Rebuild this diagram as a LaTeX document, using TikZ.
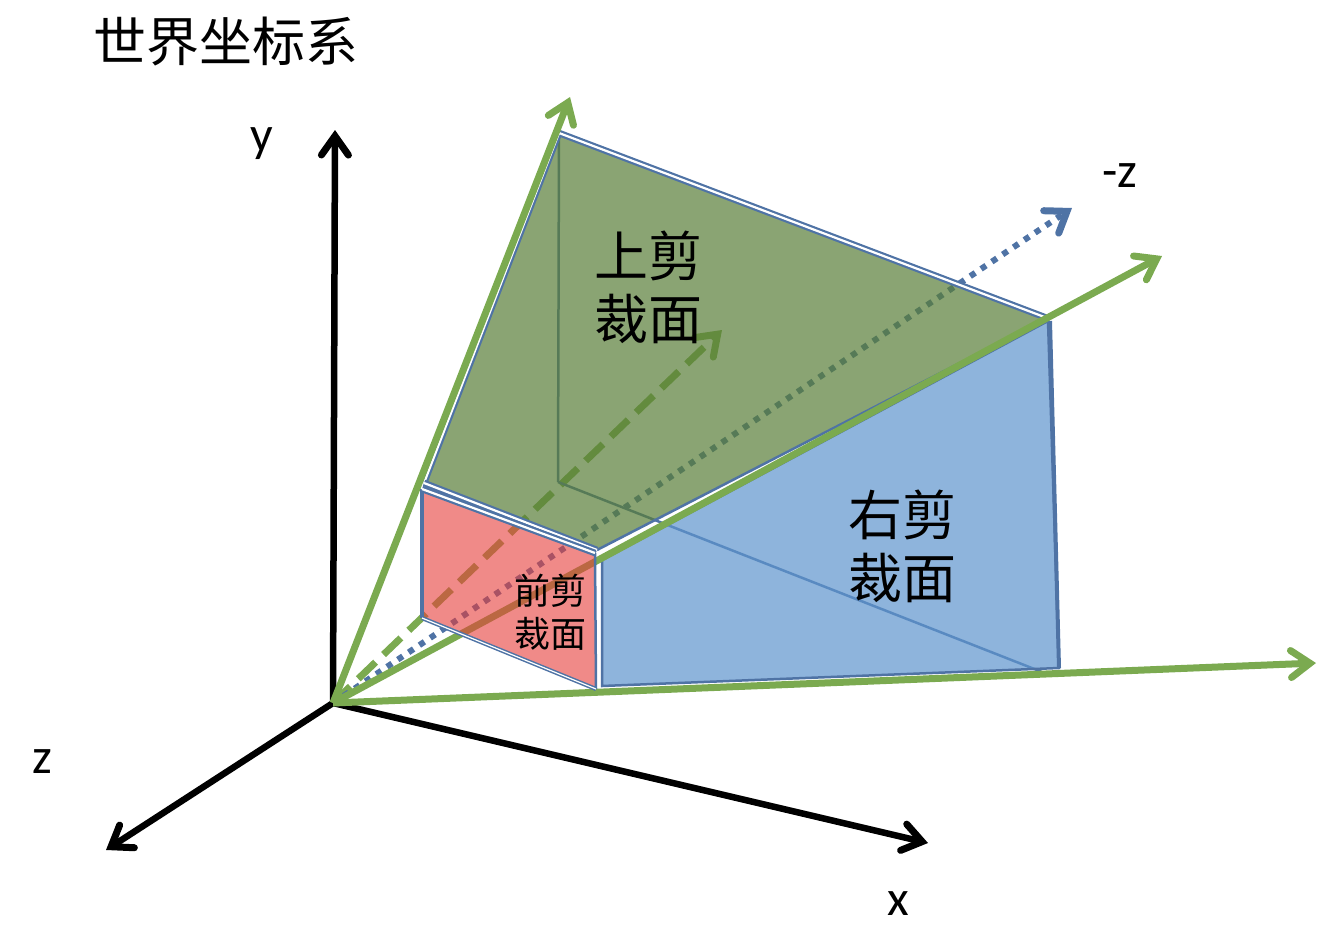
\documentclass[tikz,border=0pt]{standalone}
\usepackage{fontspec}
\setmainfont{Carlito}
\newfontfamily\cjk{Noto Sans CJK SC}
\usepackage{xcolor}
\usetikzlibrary{arrows.meta}
\definecolor{raygreen}{RGB}{123,170,80}
\definecolor{edgeblue}{RGB}{79,115,165}
\definecolor{topfill}{RGB}{89,126,55}
\definecolor{rightfill}{RGB}{94,148,205}
\definecolor{nearfill}{RGB}{230,60,57}

\begin{document}
\begin{tikzpicture}[
                x=1pt, y=-1pt,
                barb/.style={-{Straight Barb[length=19pt, width=27pt, line width=7pt, line cap=round, line join=miter]}},
                axis/.style={line width=6.5pt, barb},
                ray/.style={line width=7pt, raygreen, barb},
                raydash/.style={ray, dash pattern=on 24pt off 11pt},
                centre/.style={line width=6pt, edgeblue, dash pattern=on 6pt off 7pt, barb},
                hidden/.style={line width=2.5pt, edgeblue},
                face/.style={fill opacity=0.7},
                twin/.style={line width=2.2pt, double=white, double distance=2.2pt},
                bigtext/.style={font=\cjk\fontsize{54}{63}\selectfont, align=center, inner sep=0pt},
                titletext/.style={font=\cjk\fontsize{53}{63}\selectfont, inner sep=0pt},
                smalltext/.style={font=\cjk\fontsize{36}{43}\selectfont, align=center, inner sep=0pt},
                axislabel/.style={font=\fontsize{50}{52}\selectfont, inner sep=0pt},
            ]
                \useasboundingbox (0,0) rectangle (1342,930);

                % Axes
                \coordinate (orig) at (333,703);
                \coordinate (yend) at (335,130);
                \coordinate (xend) at (928,843);
                \coordinate (zend) at (106,850);

                % Rays
                \coordinate (raytop) at (570,97);
                \coordinate (rayright) at (1162,256);
                \coordinate (raylow) at (1316,663);
                \coordinate (rayback) at (722,330);
                \coordinate (minusz) at (1072,208);

                % Corners
                \coordinate (topa) at (424,483);
                \coordinate (topb) at (559,133);
                \coordinate (topc) at (1047,318);
                \coordinate (topd) at (597,550);
                \coordinate (righta) at (602,560);
                \coordinate (rightb) at (1048,321);
                \coordinate (rightc) at (1059,668);
                \coordinate (rightd) at (602,686);
                \coordinate (neara) at (422,489);
                \coordinate (nearb) at (595,553);
                \coordinate (nearc) at (596,689);
                \coordinate (neard) at (422,618);
                \coordinate (backc) at (558,482);
                \coordinate (backd) at (1042,672);

                % Behind the faces
                \draw[raydash] (orig) -- (rayback);
                \draw[centre] (orig) -- (minusz);
                \draw[hidden] (topb) -- (backc);
                \draw[hidden] (backc) -- (backd);

                % Faces
                \draw[face, draw=edgeblue, fill=rightfill, line width=2.5pt] (righta) -- (rightb) -- (rightc) -- (rightd) -- cycle;
                \draw[edgeblue, line width=4pt] ([xshift=2pt]rightb) -- (rightc);
                \fill[face, fill=topfill] (topa) -- (topb) -- (topc) -- (topd) -- cycle;
                \draw[edgeblue, line width=2.5pt] (topd) -- (topc);
                \draw[edgeblue, twin] (topa) -- (topb) -- (topc);
                \draw[edgeblue, twin] (topa) -- (topd);

                % Rays in front
                \draw[axis] (orig) -- (yend);
                \draw[axis] (orig) -- (xend);
                \draw[axis] (orig) -- (zend);
                \draw[ray] (orig) -- (raytop);
                \draw[ray] (orig) -- (rayright);
                \draw[ray] (orig) -- (raylow);

                % Near face
                \fill[nearfill, fill opacity=0.6] (neara) -- (nearb) -- (nearc) -- (neard) -- cycle;
                \draw[edgeblue, line width=3.5pt] (neard) -- (neara);
                \draw[edgeblue, line width=2.5pt] (nearb) -- (nearc);
                \draw[edgeblue, twin, double distance=1.2pt, line width=1.5pt] (neard) -- (nearc);
                \draw[edgeblue, twin] (neara) -- (nearb);

                % Labels
                \node[titletext, anchor=west] (title) at (93,42) {世界坐标系};
                \node[bigtext] (toplabel) at (648,287) {上剪\\裁面};
                \node[bigtext] (rightlabel) at (902,546) {右剪\\裁面};
                \node[smalltext] (nearlabel) at (550,612) {前剪\\裁面};
                \node[axislabel] (ylabel) at (262,144) {y};
                \node[axislabel] (zlabel) at (42,762) {z};
                \node[axislabel] (xlabel) at (898,904) {x};
                \node[axislabel] (minuslabel) at (1120,176) {-z};
            \end{tikzpicture}
\end{document}
